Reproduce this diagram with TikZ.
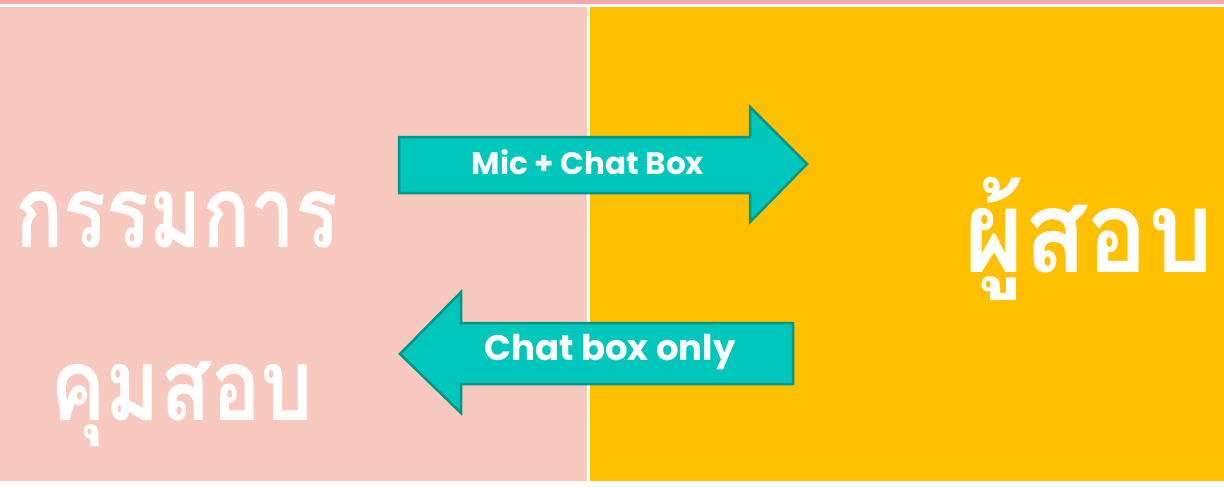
\documentclass[tikz,border=0pt]{standalone}
\usepackage{fontspec}
\newfontfamily\thaifont[Script=Thai]{Loma}
\newfontfamily\popfont{Poppins}
\definecolor{pinkbg}{RGB}{248,202,191}
\definecolor{pinkline}{RGB}{244,166,170}
\definecolor{goldbg}{RGB}{255,192,0}
\definecolor{tealfill}{RGB}{0,199,187}
\definecolor{tealline}{RGB}{0,150,136}
\tikzset{
  panel/.style={fill=#1, draw=none},
  arrowshape/.style={fill=tealfill, draw=tealline, line width=2.5pt, line join=miter},
  arrowlabel/.style={text=white, inner sep=0pt},
  thailabel/.style={text=white, font=\thaifont\bfseries\fontsize{#1}{#1}\selectfont, inner sep=0pt, anchor=base west},
}
\begin{document}
\begin{tikzpicture}[x=1pt,y=-1pt]
\useasboundingbox (0,0) rectangle (1224,487);
\fill[white] (0,0) rectangle (1224,487);
\fill[pinkline] (0,0) rectangle (1224,4);
\fill[panel=pinkbg] (0,7) rectangle (587,481);
\fill[panel=goldbg] (590,7) rectangle (1224,481);
% right arrow
\draw[arrowshape] (399,137) -- (750,137) -- (750,107) -- (807,164) -- (750,222) -- (750,193) -- (399,193) -- cycle;
\node[arrowlabel, font=\popfont\bfseries\fontsize{31}{36}\selectfont] (mic) at (588,162) {Mic + Chat Box};
% left arrow
\draw[arrowshape] (793,323) -- (461,323) -- (461,292) -- (400,354) -- (461,413) -- (461,384) -- (793,384) -- cycle;
\node[arrowlabel, font=\popfont\bfseries\fontsize{35.5}{40}\selectfont] (chat) at (610,352) {Chat box only};
% Thai labels
\node[thailabel=100] (t1) at (15,247) {\scalebox{0.8}[1]{กรรมการ}};
\node[thailabel=100] (t2) at (50,420) {\scalebox{0.83}[1]{คุมสอบ}};
\node[thailabel=114] (t3) at (964,272) {\scalebox{0.9}[1]{ผู้สอบ}};
\end{tikzpicture}
\end{document}
